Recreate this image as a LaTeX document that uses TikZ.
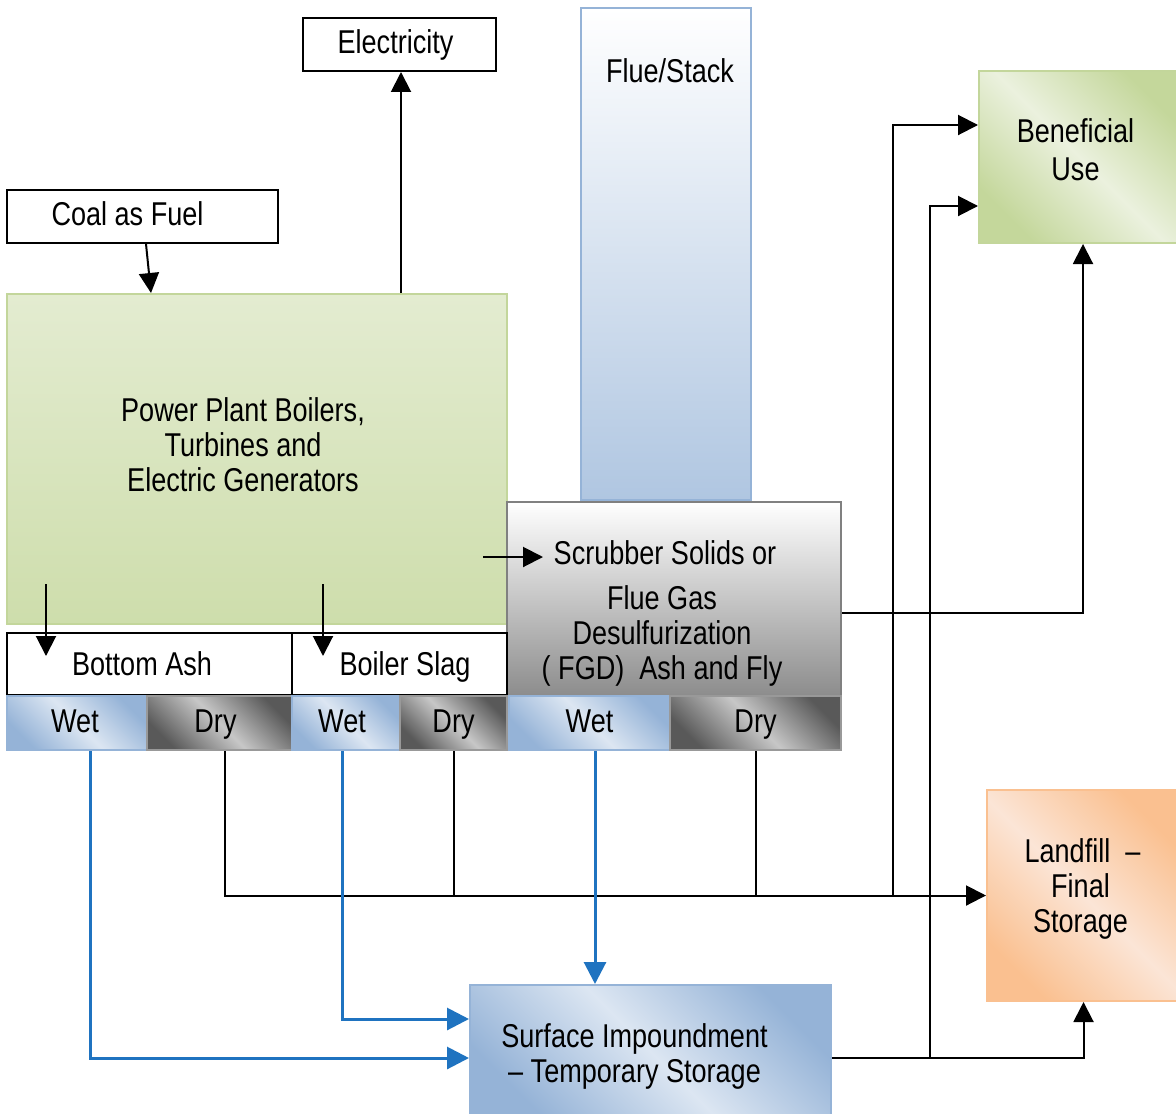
\documentclass[tikz,border=0pt]{standalone}
\usepackage{fontspec}
\setmainfont{Liberation Sans}[FakeStretch=0.82]
\usetikzlibrary{arrows.meta}
\definecolor{grnline}{RGB}{195,214,155}
\definecolor{grndark}{RGB}{196,215,155}
\definecolor{grnlight}{RGB}{235,241,222}
\definecolor{bluline}{RGB}{149,179,215}
\definecolor{bludark}{RGB}{149,179,215}
\definecolor{blulight}{RGB}{220,230,242}
\definecolor{orgdark}{RGB}{250,192,144}
\definecolor{orglight}{RGB}{251,229,214}
\definecolor{flowblue}{RGB}{31,115,192}
\tikzset{
  txt/.style={font=\fontsize{16.5}{17.5}\selectfont, align=center},
  onetxt/.style={txt, text height=12pt, text depth=3pt},
  plainbox/.style={onetxt, rectangle, inner sep=0pt, draw=black, line width=1pt, fill=white},
  greenbox/.style={txt, rectangle, inner sep=0pt, draw=grnline, line width=1pt,
    left color=grndark, right color=grndark, middle color=grnlight, shading angle=135},
  wetcell/.style={onetxt, rectangle, inner sep=0pt, draw=bluline, line width=1pt,
    minimum height=27pt, left color=bludark, right color=bludark, middle color=blulight, shading angle=135},
  drycell/.style={onetxt, rectangle, inner sep=0pt, draw=gray!80, line width=1pt,
    minimum height=27pt, left color=black!65, right color=black!65, middle color=black!22, shading angle=135},
  line/.style={draw=black, line width=1pt},
  arr/.style={line, -{Triangle[length=10pt,width=10pt]}},
  bluearr/.style={draw=flowblue, line width=1.5pt, -{Triangle[length=11pt,width=11pt]}}
}
\begin{document}
\begin{tikzpicture}[x=0.5pt,y=-0.5pt]
\useasboundingbox (0,0) rectangle (1176,1113);

\node (elec) [plainbox, minimum width=96.5pt, minimum height=26.5pt] at (399.5,44.5) {\hspace{-4pt}Electricity};
\node (coal) [plainbox, minimum width=135.5pt, minimum height=26.5pt,
  label={[onetxt, xshift=-7.5pt]center:Coal as Fuel}] at (142.5,216.5) {};
\node (stack) [rectangle, draw=bluline, line width=1pt, top color=white, bottom color=bludark!75,
  minimum width=85pt, minimum height=246pt] at (666,254) {};
\node (stacklbl) [txt] at (670,71) {Flue/Stack};
\node (plant) [rectangle, draw=grnline, line width=1pt, top color=grnlight!80!grndark, bottom color=grndark!75!grnlight,
  minimum width=250pt, minimum height=165pt,
  label={[txt, xshift=-7pt, yshift=7pt]center:{Power Plant Boilers,\\Turbines and\\Electric Generators}}] at (257,459) {};
\node (scrub) [rectangle, draw=gray, line width=1pt, top color=white, bottom color=black!45,
  minimum width=167pt, minimum height=97pt,
  label={[txt, xshift=-6pt, yshift=-7pt]center:{\hspace{3pt}Scrubber Solids or\\[5pt]Flue Gas\\Desulfurization\\( FGD) \ Ash and Fly}}] at (674,599) {};
\node (bash) [plainbox, minimum width=142.5pt, minimum height=31pt,
  label={[onetxt, xshift=-3.75pt, yshift=-1pt]center:Bottom Ash}] at (149.5,664) {};
\node (bslag) [plainbox, minimum width=107.5pt, minimum height=31pt,
  label={[onetxt, xshift=2.75pt, yshift=-1pt]center:Boiler Slag}] at (399.5,664) {};
\node (wet1) [wetcell, minimum width=70pt] at (77,723) {\hspace{-2pt}Wet};
\node (dry1) [drycell, minimum width=72.5pt] at (219.5,723) {\hspace{-4pt}Dry};
\node (wet2) [wetcell, minimum width=54pt] at (346,723) {\hspace{-4pt}Wet};
\node (dry2) [drycell, minimum width=53.5pt] at (453.5,723) {Dry};
\node (wet3) [wetcell, minimum width=80.5pt] at (589.5,723) {Wet};
\node (dry3) [drycell, minimum width=85.5pt] at (755.5,723) {Dry};
\node (benef) [greenbox, minimum width=100.5pt, minimum height=86pt,
  label={[txt, xshift=-2pt, yshift=3.5pt]center:{Beneficial\\[1.5pt]Use}}] at (1079.5,157) {};
\node (landfill) [rectangle, inner sep=0pt, draw=orgdark, line width=1pt,
  left color=orgdark, right color=orgdark, middle color=orglight, shading angle=135,
  minimum width=96.5pt, minimum height=105.5pt,
  label={[txt, xshift=-1.5pt, yshift=3.5pt]center:{\hspace{2pt}Landfill \ --\\Final\\Storage}}] at (1083.5,895.5) {};
\node (surf) [rectangle, inner sep=0pt, draw=bluline, line width=1pt,
  left color=bludark, right color=bludark, middle color=blulight, shading angle=135,
  minimum width=180.5pt, minimum height=66.5pt,
  label={[txt, xshift=-8pt, yshift=-2.5pt]center:{Surface Impoundment\\-- Temporary Storage}}] at (650.5,1051.5) {};

\coordinate (gasin) at (483,557);
\coordinate (gasout) at (543,557);
\coordinate (ashin) at (46,584);
\coordinate (ashout) at (46,656);
\coordinate (slagin) at (323,584);
\coordinate (slagout) at (323,656);
\coordinate (split) at (930,1058);

\draw[arr] ([xshift=1.75pt]coal.south) -- (plant.north -| 151,0);
\draw[arr] (plant.north -| 401,0) -- (elec.south -| 401,0);
\draw[arr] (gasin) -- (gasout);
\draw[arr] (ashin) -- (ashout);
\draw[arr] (slagin) -- (slagout);

\draw[arr] (dry1.south -| 225,0) |- (landfill.west);
\draw[line] (dry2.south -| 454,0) -- (454,0 |- landfill.west);
\draw[line] (dry3.south) -- (dry3.south |- landfill.west);
\draw[arr] (893,0 |- landfill.west) |- ([yshift=16pt]benef.west);
\draw[arr] (split) |- ([yshift=-24.5pt]benef.west);
\draw[arr] ([yshift=-3.25pt]surf.east) -| (landfill.south);
\draw[arr] (scrub.east |- 0,613) -| ([xshift=1.75pt]benef.south);

\draw[bluearr] (wet1.south -| 90,0) |- ([yshift=-3.25pt]surf.west);
\draw[bluearr] (wet2.south -| 342,0) |- ([yshift=16.25pt]surf.west);
\draw[bluearr] (wet3.south -| 595,0) -- (surf.north -| 595,0);
\end{tikzpicture}
\end{document}
